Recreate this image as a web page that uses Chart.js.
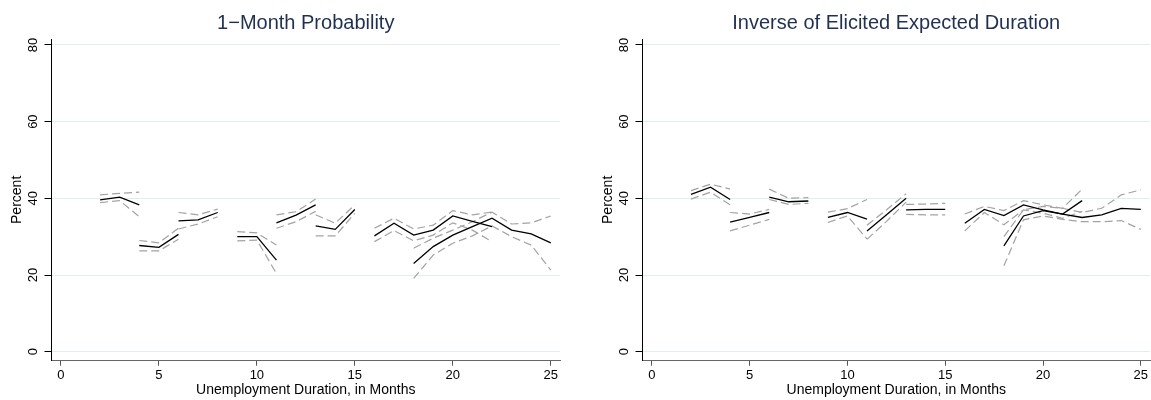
<!DOCTYPE html>
<html>
<head>
<meta charset="utf-8">
<script src="https://cdn.jsdelivr.net/npm/chart.js@4/dist/chart.umd.min.js"></script>
<style>
  body { margin: 0; background: #fff; }
  .panel { position: absolute; top: 0; }
</style>
</head>
<body>
<canvas id="probChart" class="panel" width="576" height="400" style="left:0px"></canvas>
<canvas id="durChart" class="panel" width="560" height="400" style="left:591px"></canvas>
<script>
// months of unemployment duration (x values of every series)
const months = [2, 3, 4, 5, 6, 7, 8, 9, 10, 11, 12, 13, 14, 15, 16, 17, 18, 19, 20, 21, 22, 23, 24, 25]
const xTicks = [0, 5, 10, 15, 20, 25]
const yTicks = [0, 20, 40, 60, 80]

// 1-Month Probability: two interleaved groups of segments, estimate + upper/lower band
const probA   = [39.6, 40.3, 38.3, null, 34.1, 34.4, 36.3, null, null, 33.6, 35.6, 38.3, null, null, 30.2, 33.5, 30.4, 31.7, 35.4, 34.0, 32.6, null, null, null]
const probAHi = [40.9, 41.3, 41.6, null, 36.3, 35.7, 37.2, null, null, 35.7, 36.5, 39.8, null, null, 32.2, 34.8, 32.0, 33.0, 36.8, 35.7, 36.4, null, null, null]
const probALo = [38.9, 39.4, 35.2, null, 32.0, 33.3, 35.2, null, null, 32.2, 33.9, 36.6, null, null, 28.7, 31.6, 28.9, 30.4, 33.6, 31.7, 28.7, null, null, null]
const probB   = [null, null, 27.7, 27.2, 30.6, null, null, 30.0, 30.0, 23.9, null, 32.8, 31.9, 37.1, null, null, 23.0, 27.4, 30.4, 32.6, 34.8, 31.7, 30.7, 28.4]
const probBHi = [null, null, 29.0, 28.4, 32.2, null, null, 31.3, 31.0, 27.8, null, 35.7, 33.5, 38.3, null, null, 27.0, 29.6, 31.7, 33.9, 36.4, 33.3, 33.6, 35.4]
const probBLo = [null, null, 26.3, 26.3, 29.3, null, null, 28.9, 29.1, 20.4, null, 30.2, 30.2, 36.1, null, null, 19.1, 25.2, 28.3, 30.2, 32.8, 30.0, 27.8, 21.3]

// Inverse of Elicited Expected Duration
const durA   = [41.0, 42.9, 39.7, null, 40.3, 39.1, 39.3, null, null, 31.5, 35.7, 40.0, null, null, 33.5, 37.1, 35.5, 38.3, 37.0, 35.9, 39.4, null, null, null]
const durAHi = [42.0, 43.7, 42.4, null, 42.4, 40.0, 40.2, null, null, 33.0, 37.0, 41.2, null, null, 35.9, 37.9, 36.8, 39.4, 38.3, 37.4, 42.4, null, null, null]
const durALo = [39.8, 41.6, 38.3, null, 39.7, 38.4, 38.7, null, null, 29.3, 34.0, 39.0, null, null, 31.5, 36.3, 33.1, 37.0, 36.1, 34.8, 36.6, null, null, null]
const durB   = [null, null, 33.8, 35.0, 36.3, null, null, 35.0, 36.3, 34.6, null, 37.0, 37.1, 37.1, null, null, 27.6, 35.4, 36.8, 35.9, 35.0, 35.7, 37.4, 37.1]
const durBHi = [null, null, 36.3, 35.9, 37.1, null, null, 36.4, 37.3, 39.7, null, 38.4, 38.5, 38.7, null, null, 30.0, 37.0, 37.9, 37.4, 36.3, 37.4, 40.9, 42.2]
const durBLo = [null, null, 31.5, 33.0, 34.5, null, null, 33.7, 35.4, 29.4, null, 35.8, 35.7, 35.7, null, null, 22.4, 34.4, 35.4, 34.5, 33.9, 33.9, 34.2, 31.9]

const family = '"Liberation Sans", Arial, Helvetica, sans-serif'

const toPoints = (values) => months.map((m, i) => ({x: m, y: values[i]}))

const estLine = (values) => ({
    data: toPoints(values),
    borderColor: '#000',
    borderWidth: 1.3,
    pointRadius: 0,
    fill: false,
    tension: 0
})
const bandLine = (values) => ({
    data: toPoints(values),
    borderColor: '#a3a3a3',
    borderWidth: 1.2,
    borderDash: [8, 4],
    pointRadius: 0,
    fill: false,
    tension: 0
})

// panel title and the rotated y tick labels (Chart.js can't rotate vertical ticks)
const panelText = {
    id: 'panelText',
    afterDraw(chart, args, opts) {
        const {ctx, chartArea} = chart
        const yScale = chart.scales.y
        ctx.save()
        ctx.fillStyle = '#1f3050'
        ctx.font = '20px ' + family
        ctx.textAlign = 'center'
        ctx.textBaseline = 'alphabetic'
        ctx.fillText(opts.title, (chartArea.left + chartArea.right) / 2, 29)
        ctx.fillStyle = '#000'
        ctx.font = '13px ' + family
        ctx.textBaseline = 'middle'
        yTicks.forEach(v => {
            ctx.save()
            ctx.translate(chartArea.left - 18, yScale.getPixelForValue(v))
            ctx.rotate(-Math.PI / 2)
            ctx.fillText(String(v), 0, 0)
            ctx.restore()
        })
        ctx.restore()
    }
}

const makeChart = (id, title, estA, hiA, loA, estB, hiB, loB, padRight) => {
    new Chart(document.getElementById(id), {
        type: 'line',
        data: {
            datasets: [
                estLine(estA), estLine(estB),
                bandLine(hiA), bandLine(loA), bandLine(hiB), bandLine(loB)
            ]
        },
        options: {
            responsive: false,
            animation: false,
            events: [],
            layout: {padding: {top: 39, right: padRight, bottom: 0, left: 0}},
            plugins: {
                legend: {display: false},
                tooltip: {enabled: false},
                panelText: {title: title}
            },
            scales: {
                x: {
                    type: 'linear',
                    min: -0.48,
                    max: 25.47,
                    afterBuildTicks: s => { s.ticks = xTicks.map(v => ({value: v})) },
                    afterFit: s => { s.height = 39.3 },
                    grid: {drawOnChartArea: false, tickLength: 5, tickColor: '#555'},
                    border: {color: '#666', width: 1},
                    ticks: {color: '#000', font: {family: family, size: 13}, padding: 2, maxRotation: 0},
                    title: {
                        display: true,
                        text: 'Unemployment Duration, in Months',
                        color: '#000',
                        font: {family: family, size: 14},
                        padding: {top: 0, bottom: 1.6}
                    }
                },
                y: {
                    min: -2.35,
                    max: 81.55,
                    afterBuildTicks: s => { s.ticks = yTicks.map(v => ({value: v})) },
                    afterFit: s => { s.width = 51.5 },
                    grid: {color: '#e3edf0', tickLength: 7, tickColor: '#000'},
                    border: {color: '#000', width: 1},
                    ticks: {display: false},
                    title: {
                        display: true,
                        text: 'Percent',
                        color: '#000',
                        font: {family: family, size: 14},
                        padding: {top: 8.6, bottom: 0}
                    }
                }
            }
        },
        plugins: [panelText]
    })
}

makeChart('probChart', '1\u2212Month Probability', probA, probAHi, probALo, probB, probBHi, probBLo, 16)
makeChart('durChart', 'Inverse of Elicited Expected Duration', durA, durAHi, durALo, durB, durBHi, durBLo, 1)
</script>
</body>
</html>
